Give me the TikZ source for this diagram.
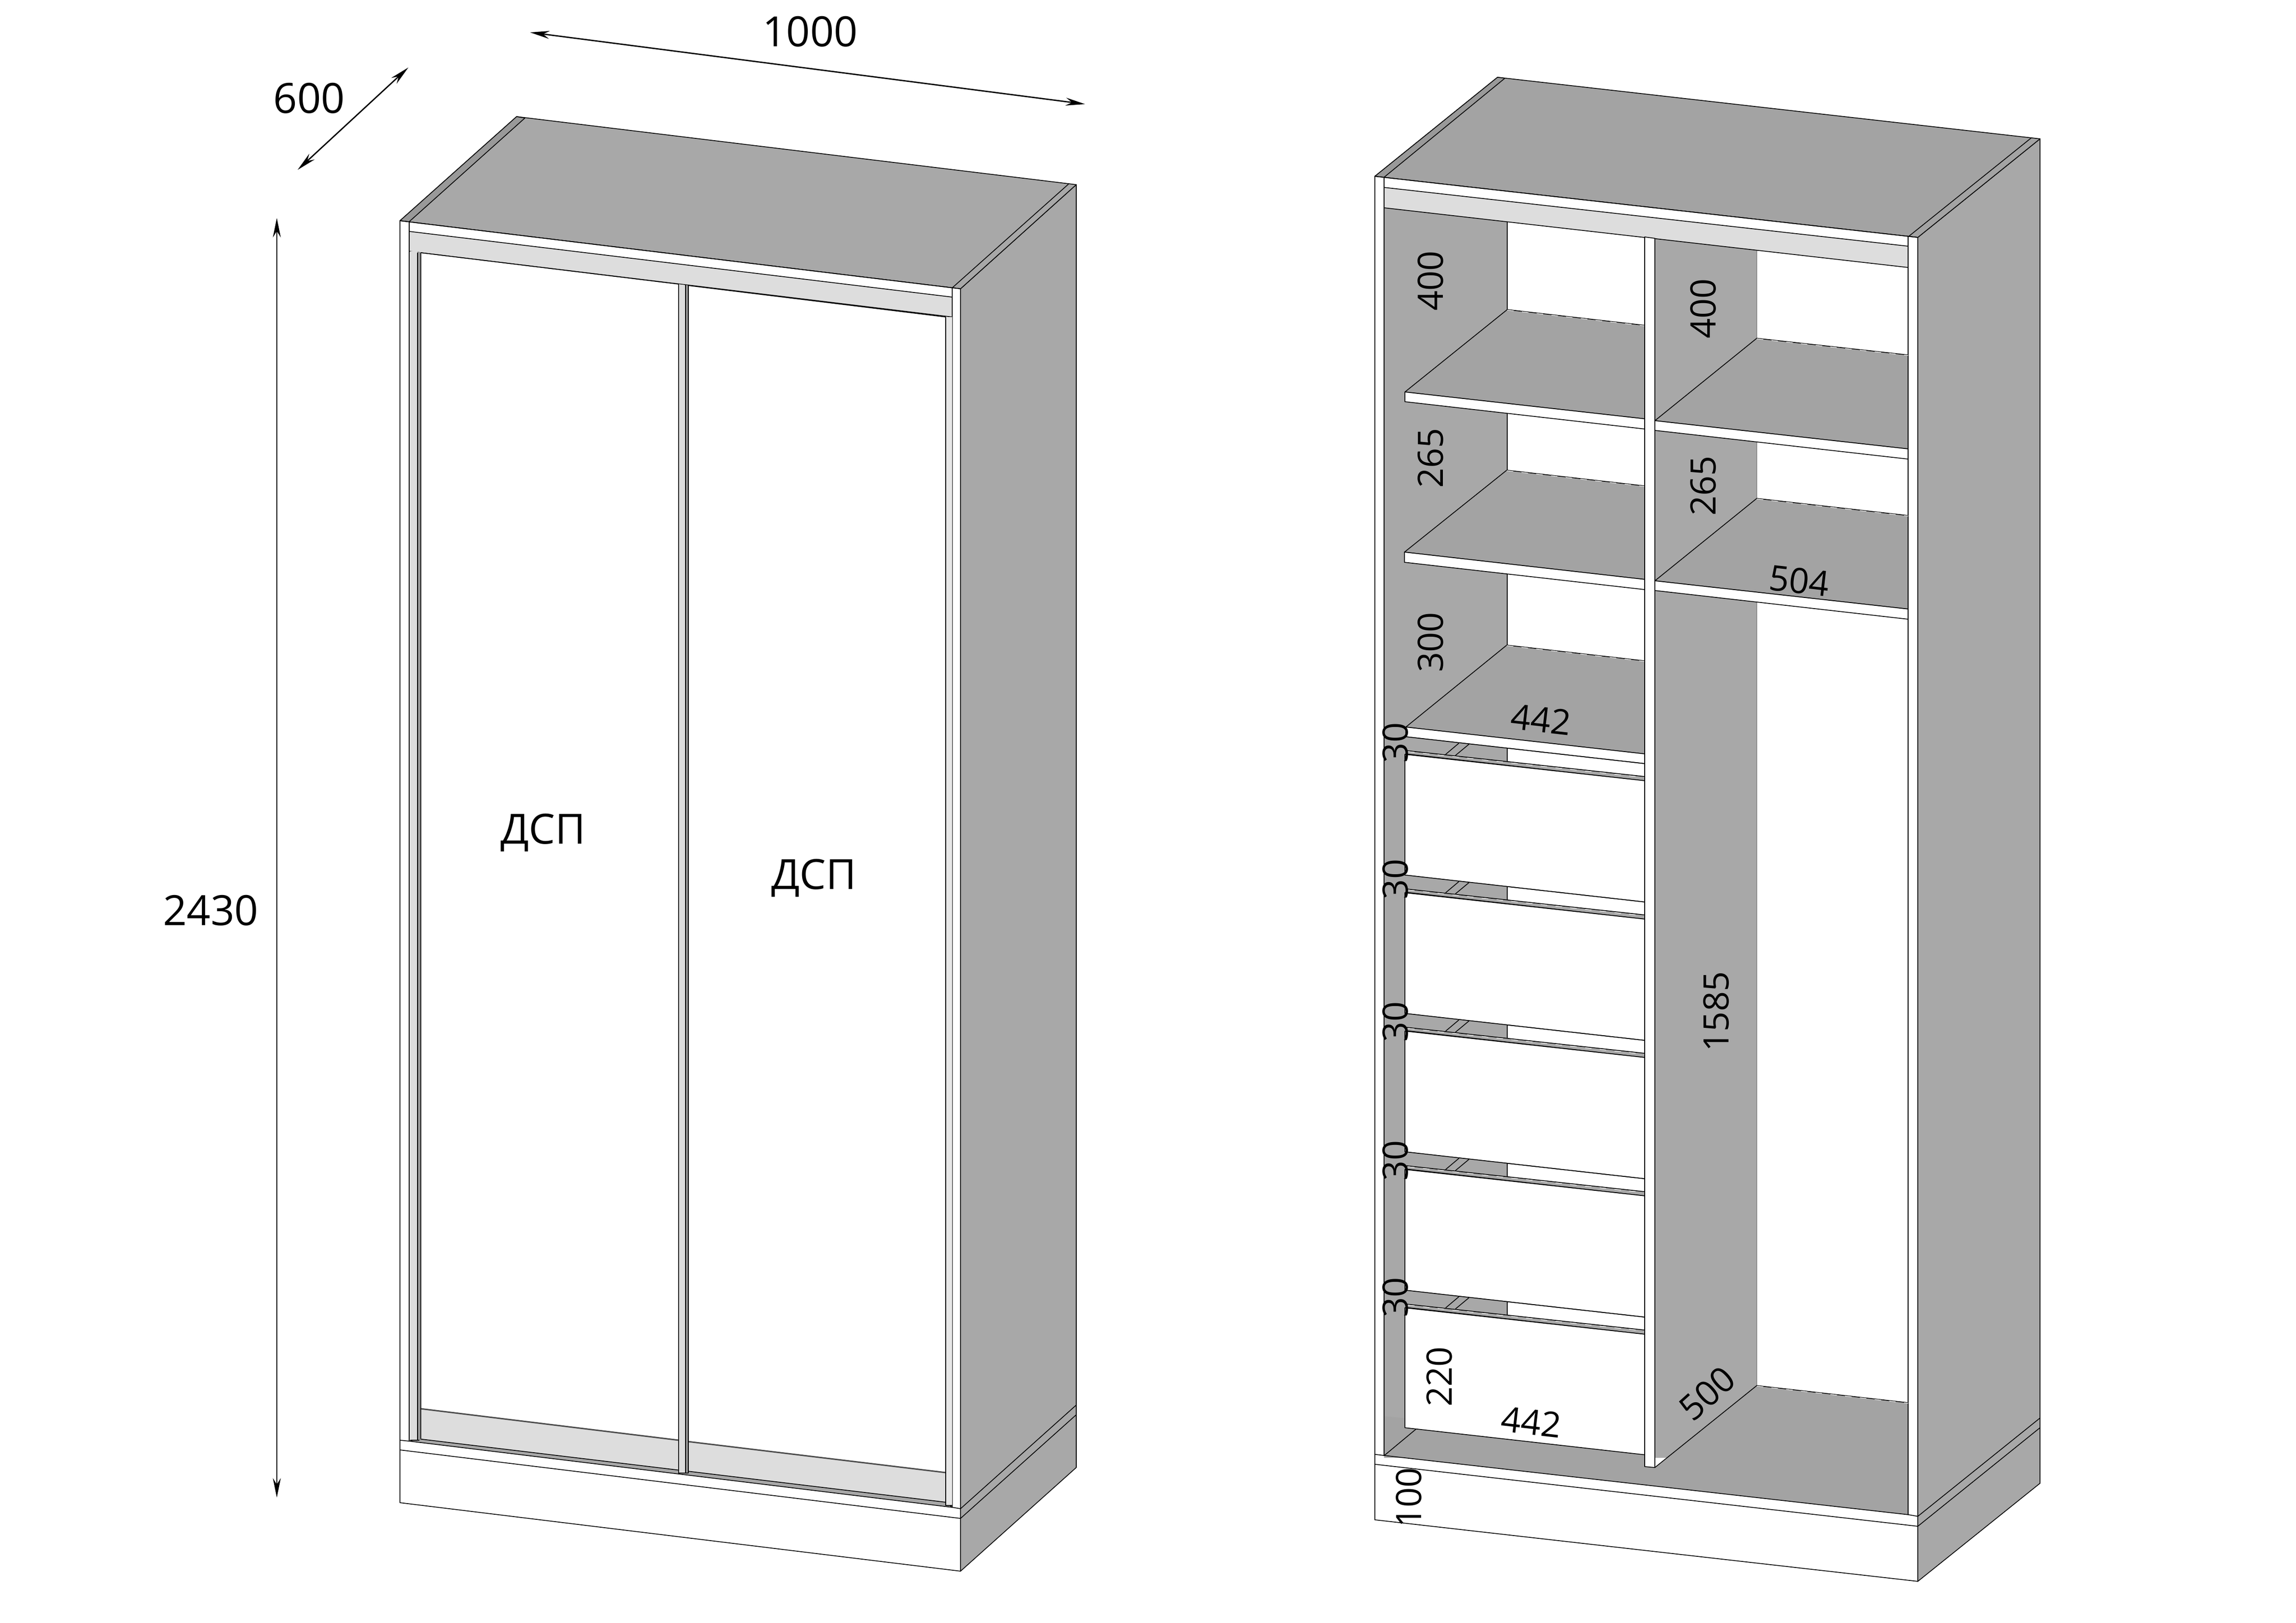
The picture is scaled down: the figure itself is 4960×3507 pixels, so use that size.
\documentclass[tikz,border=0pt]{standalone}
\usepackage{fontspec}
\setmainfont{Open Sans}
\usetikzlibrary{arrows.meta}
\definecolor{grA}{HTML}{A8A8A8}
\definecolor{grB}{HTML}{A3A3A3}
\definecolor{grD}{HTML}{999999}
\definecolor{grL}{HTML}{DDDDDD}
\tikzset{
  ln/.style={draw=black,line width=0.017cm,line join=round},
  pan/.style={ln,fill=grA},
  panb/.style={ln,fill=grB},
  wht/.style={ln,fill=white},
  lgt/.style={ln,fill=grL},
  drk/.style={ln,fill=grD},
  plain/.style={fill=grA},
  dashw/.style={draw=white,line width=0.012cm,dash pattern=on 0.14cm off 0.18cm},
  dim/.style={line width=0.028cm,black,{Stealth[length=0.42cm,width=0.17cm]}-{Stealth[length=0.42cm,width=0.17cm]}},
  big/.style={inner sep=0pt,font=\fontsize{25.6}{30}\selectfont},
  lbl/.style={inner sep=0pt,font=\fontsize{21.5}{26}\selectfont},
}
\begin{document}
\begin{tikzpicture}[x=0.01cm,y=-0.01cm]
\useasboundingbox (0,0) rectangle (4960,3507);
\fill[white] (0,0) rectangle (4960,3507);

%%% LEFT WARDROBE
\path[pan] (2075,624) -- (2325,399) -- (2325,3171) -- (2075,3395) -- cycle;
\path[pan] (864,477) -- (1116,252) -- (2325,399) -- (2075,624) -- cycle;
\path[drk] (864,477) -- (1116,252) -- (1134,255) -- (884,479) -- cycle;
\path[ln] (2057,622) -- (2308,398);
\path[ln] (2075,3260) -- (2325,3036);
\path[ln] (2075,3281) -- (2325,3057);
\path[wht] (864,477) -- (2075,624) -- (2075,3395) -- (864,3247) -- cycle;
\path[ln] (884,479) -- (884,3114);
\path[ln] (2057,622) -- (2057,3257);
\path[lgt] (884,500) -- (2057,642) -- (2057,685) -- (884,543) -- cycle;
% bottom panel of doors
\path[fill=grL] (909,3044) -- (1466,3112) -- (2043,3182) -- (2043,3250) -- (909,3109) -- cycle;
\path[line width=0.03cm,draw=black!70] (909,3044) -- (1466,3112) (1487,3115) -- (2043,3182);
\path[ln,fill=grA] (884,3114) -- (904,3109) -- (2043,3246) -- (2057,3257) -- cycle;
% profiles
\fill[grL] (886,543) rectangle (902,3112);
\fill[grD] (902,545) rectangle (909,3110);
\path[ln] (902,546) -- (902,3112) (909,546) -- (909,3109) (886,3112) -- (906,3112);
\fill[grL] (1466,614) -- (1481,616) -- (1481,3183) -- (1466,3183) -- cycle;
\fill[grD] (1481,616) -- (1487,617) -- (1487,3183) -- (1481,3183) -- cycle;
\path[ln] (1466,614) -- (1466,3183) -- (1487,3183) -- (1487,617);
\path[ln] (1481,616) -- (1481,3183);
\fill[grL!70!white] (2043,685) rectangle (2057,3253);
\path[ln] (2043,685) -- (2043,3253) -- (2057,3253);
\path[ln] (909,546) -- (1466,614) (1487,617) -- (2043,685);
\path[ln] (864,3112) -- (884,3114);
\path[ln] (2057,3257) -- (2075,3260);
\path[ln] (864,3133) -- (2075,3281);
\path[ln] (864,477) -- (2075,624);

%%% RIGHT WARDROBE
\path[pan] (4143,513) -- (4407,300) -- (4407,3205) -- (4143,3417) -- cycle;
\path[panb] (2970,381) -- (3235,167) -- (4407,300) -- (4143,513) -- cycle;
\path[drk] (2970,381) -- (3235,167) -- (3251,169) -- (2990,383) -- cycle;
\path[ln] (4123,511) -- (4388,298);
\path[ln] (4143,3276.5) -- (4407,3064);
\path[ln] (4143,3298) -- (4407,3085);
\path[wht] (2970,381) -- (4143,513) -- (4143,3417) -- (2970,3284) -- cycle;
\path[ln] (2970,3142.6) -- (2990,3145);
\path[ln] (4123,3273) -- (4143,3276.5);
\path[ln] (2970,3164) -- (4143,3298);
% inner walls
\path[plain] (2990,449) -- (3256,479) -- (3256,3150) -- (2990,3150) -- cycle;
\path[fill=white] (3256,479) -- (3553,512) -- (3553,2950) -- (3256,2950) -- cycle;
\path[plain] (3575,515) -- (3795,540) -- (3795,3150) -- (3575,3150) -- cycle;
\path[fill=white] (3795,540) -- (4122,578) -- (4122,3040) -- (3795,3040) -- cycle;
\path[ln] (3256,479) -- (3256,1394);
\path[draw=black!45,line width=0.017cm] (3795,540) -- (3795,2994);
% floor
\path[fill=grB] (2990,3145) -- (4123,3273) -- (4123,3031) -- (3795,2994) -- (3575,3171) -- (3575,3120) -- (2990,3060) -- cycle;
\path[ln] (2990,3145) -- (4123,3273);
\path[ln] (3795,2994) -- (4122,3031);
\path[ln] (4122,1338) -- (4122,3273);
% strip
\path[lgt] (2990,405) -- (4122,532) -- (4122,578) -- (2990,449) -- cycle;
\path[ln] (2990,383) -- (2990,3145);
\path[ln] (4122,511) -- (4122,532);
% shelves left
\path[panb] (3256,669) -- (3553,703) -- (3553,905) -- (3035,847) -- cycle;
\path[wht] (3035,847) -- (3553,905) -- (3553,927) -- (3035,868) -- cycle;
\path[panb] (3255,1016) -- (3553,1050) -- (3553,1252) -- (3034,1193) -- cycle;
\path[wht] (3034,1193) -- (3553,1252) -- (3553,1274) -- (3034,1215) -- cycle;
\path[panb] (3255,1394) -- (3553,1428) -- (3553,1629) -- (3037,1571) -- cycle;
\path[wht] (3037,1571) -- (3553,1629) -- (3553,1650) -- (3037,1592) -- cycle;
% shelves right
\path[panb] (3795,731) -- (4122,767) -- (4122,970) -- (3575,909) -- cycle;
\path[wht] (3575,909) -- (4122,970) -- (4122,992) -- (3575,930) -- cycle;
\path[panb] (3795,1077) -- (4122,1114) -- (4122,1316) -- (3575,1255) -- cycle;
\path[wht] (3575,1255) -- (4122,1316) -- (4122,1338) -- (3575,1276) -- cycle;
\path[ln] (4122,578) -- (4122,1338);
% shelf back edges: light dashes
\foreach \xa/\ya/\xb/\yb in {3256/669/3553/703,3795/731/4122/767,3255/1016/3553/1050,3795/1077/4122/1114,3255/1394/3553/1428,3795/2994/4122/3031}{
  \path[dashw] (\xa,\ya+1) -- (\xb,\yb+1);
}
% drawers
\foreach \i/\b/\c in {0/1891/1949,1/2190/2248,2/2489/2547,3/2788/2846,4/3085/3143.5}{
  \pgfmathsetmacro{\o}{299*\i}
  \fill[grA] (3037,1592+\o) -- (3256,1616+\o) -- (3256,1646+\o) -- (3037,1622+\o) -- cycle;
  \path[ln,fill=grA] (3037,1629+\o) -- (3039,1622+\o) -- (3553,1678+\o) -- (3553,1687+\o) -- cycle;
  \path[dashw] (3042,1624+\o) -- (3553,1680+\o);
  \path[wht] (3035,1630+\o) -- (3553,1687+\o) -- (3553,\c) -- (3035,\b) -- cycle;
  \path[ln] (3123,1630+\o) -- (3151.5,1606+\o);
  \path[ln] (3144,1632.5+\o) -- (3173.5,1608+\o);
  \path[ln] (3037,1592+\o) -- (3553,1650+\o);
  \path[ln] (3256,1616+\o) -- (3256,1646+\o);
}
\path[ln] (3059,3088) -- (2990.5,3145);
% partition
\path[wht] (3553,512) -- (3575,515) -- (3575,3171) -- (3553,3169) -- cycle;
\path[ln] (3575,3171) -- (3795,2994);
\path[ln] (2970,381) -- (4143,513);

%%% DIMENSION ARROWS
\coordinate (wa) at (1145,70);
\coordinate (wb) at (2344,225);
\coordinate (da) at (882,146);
\coordinate (db) at (643,367);
\coordinate (ha) at (598,471);
\coordinate (hb) at (598,3236);
\draw[dim] (wa) -- (wb);
\draw[dim] (da) -- (db);
\draw[dim] (ha) -- (hb);

%%% TEXT
\node[big] (t1000) at (1750,68) {1000};
\node[big] (t600) at (668,212) {600};
\node[big] (t2430) at (455,1967) {2430};
\node[big] (dsp1) at (1173,1799) {ДСП};
\node[big] (dsp2) at (1758,1897) {ДСП};
\node[lbl,rotate=90] (a1) at (3090,607) {400};
\node[lbl,rotate=90] (a2) at (3679,667) {400};
\node[lbl,rotate=90] (b1) at (3090,990) {265};
\node[lbl,rotate=90] (b2) at (3679,1050) {265};
\node[lbl,rotate=90] (c1) at (3090,1388) {300};
\node[lbl,rotate=-6.4] (d1) at (3887,1255) {504};
\node[lbl,rotate=-6.4] (d2) at (3329,1555) {442};
\node[lbl,rotate=-6.4] (d3) at (3308,3073) {442};
\node[lbl,rotate=90] (e1) at (3014,1605) {30};
\node[lbl,rotate=90] (e2) at (3014,1900) {30};
\node[lbl,rotate=90] (e3) at (3014,2208) {30};
\node[lbl,rotate=90] (e4) at (3014,2508) {30};
\node[lbl,rotate=90] (e5) at (3014,2803) {30};
\node[lbl,rotate=90] (f1) at (3707,2186) {1585};
\node[lbl,rotate=90] (f2) at (3109,2975) {220};
\node[lbl,rotate=90] (f3) at (3043,3236) {100};
\node[lbl,rotate=42] (f4) at (3688,3011) {500};
\end{tikzpicture}
\end{document}
